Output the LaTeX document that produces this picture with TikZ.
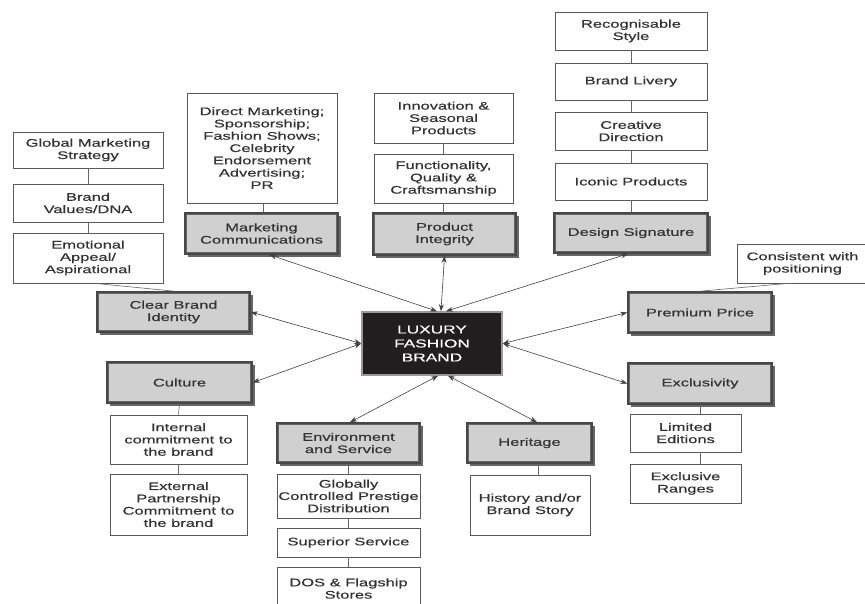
\documentclass[tikz,border=0pt]{standalone}
\usepackage{fontspec}
\setmainfont{Liberation Sans}[FakeStretch=1.5,FakeBold=0.5]
\usetikzlibrary{arrows.meta}
\definecolor{txt}{HTML}{333333}
\definecolor{catfill}{HTML}{D0D0D0}
\definecolor{centerfill}{HTML}{221E1F}
\newcommand\bxnode[7]{%
  \pgfmathsetmacro\cx{(#3+#5)/2}\pgfmathsetmacro\cy{(#4+#6)/2}%
  \pgfmathsetmacro\bw{#5-#3}\pgfmathsetmacro\bh{#6-#4}%
  \node[#1, minimum width=\bw pt, minimum height=\bh pt] (#2) at (\cx,\cy) {#7};}
\newcommand\catnode[6]{%
  \fill[catshadow] (#2+2.5,#3+2.5) rectangle (#4+2.5,#5+2.5);%
  \bxnode{cat}{#1}{#2}{#3}{#4}{#5}{#6}%
  \draw[catinner] ([shift={(2.2pt,-2.2pt)}]#1.north west) rectangle ([shift={(-2.2pt,2.2pt)}]#1.south east);}
\begin{document}
\begin{tikzpicture}[x=1pt,y=-1pt,
  base/.style={align=center, font=\fontsize{11}{12.3}\selectfont, text=txt, inner sep=0pt},
  leaf/.style={base, draw=black!65, line width=0.7pt, fill=white},
  cat/.style={base, draw=black!72, line width=1.6pt, fill=catfill},
  catinner/.style={draw=black!60, line width=0.6pt},
  catshadow/.style={fill=black!60},
  core/.style={align=center, font=\fontsize{11.5}{14}\selectfont, text=white, inner sep=0pt,
    fill=centerfill, draw=black!40, line width=1.5pt},
  link/.style={draw=black!60, line width=0.6pt},
  arr/.style={{Stealth[length=7pt,width=5pt]}-{Stealth[length=7pt,width=5pt]}, draw=black!75, line width=0.6pt}
]
\useasboundingbox (0,0) rectangle (865,603);
\fill[white] (0,0) rectangle (865,603);

% centre
\bxnode{core}{lfb}{362}{312}{502}{375}{LUXURY\\FASHION\\BRAND}

% top-left group
\bxnode{leaf}{gms}{13}{132}{163}{168}{Global Marketing\\Strategy}
\bxnode{leaf}{bv}{13}{184}{163}{222}{Brand\\Values/DNA}
\bxnode{leaf}{ea}{13}{233}{163}{283}{Emotional\\Appeal/\\Aspirational}
\catnode{cbi}{97}{292}{250}{332}{Clear Brand\\Identity}

% culture group
\catnode{cul}{107}{362}{252}{403}{Culture}
\bxnode{leaf}{ic}{110}{415}{247}{464}{Internal\\commitment to\\the brand}
\bxnode{leaf}{ep}{110}{474}{247}{535}{External\\Partnership\\Commitment to\\the brand}

% marketing communications
\bxnode{leaf}{dm}{187}{93}{337}{203}{Direct Marketing;\\Sponsorship;\\Fashion Shows;\\Celebrity\\Endorsement\\Advertising;\\PR}
\catnode{mc}{185}{213}{338}{254}{Marketing\\Communications}

% product integrity
\bxnode{leaf}{isp}{374}{93}{513}{143}{Innovation \&\\Seasonal\\Products}
\bxnode{leaf}{fqc}{374}{154}{513}{203}{Functionality,\\Quality \&\\Craftsmanship}
\catnode{pi}{373}{213}{516}{255}{Product\\Integrity}

% design signature
\bxnode{leaf}{rs}{555}{12}{707}{50}{Recognisable\\Style}
\bxnode{leaf}{bl}{555}{63}{707}{100}{Brand Livery}
\bxnode{leaf}{cd}{555}{112}{707}{150}{Creative\\Direction}
\bxnode{leaf}{ip}{555}{163}{707}{200}{Iconic Products}
\catnode{ds}{554}{213}{708}{253}{Design Signature}

% premium price
\bxnode{leaf}{cwp}{737}{244}{868}{283}{Consistent with\\positioning}
\catnode{pp}{628}{292}{772}{333}{Premium Price}

% exclusivity
\catnode{ex}{628}{363}{772}{404}{Exclusivity}
\bxnode{leaf}{le}{630}{414}{741}{452}{Limited\\Editions}
\bxnode{leaf}{er}{630}{464}{741}{503}{Exclusive\\Ranges}

% heritage
\catnode{her}{467}{423}{592}{463}{Heritage}
\bxnode{leaf}{hist}{470}{475}{590}{535}{History and/or\\Brand Story}

% environment and service
\catnode{env}{277}{423}{420}{463}{Environment\\and Service}
\bxnode{leaf}{gcp}{277}{474}{420}{518}{Globally\\Controlled Prestige\\Distribution}
\bxnode{leaf}{ss}{277}{528}{420}{557}{Superior Service}
\bxnode{leaf}{dos}{277}{567}{420}{610}{DOS \& Flagship\\Stores}

% connectors within groups
\draw[link] (gms.south) -- (bv.north);
\draw[link] (bv.south) -- (ea.north);
\draw[link] ([xshift=7pt]ea.south) -- ([xshift=1pt]cbi.north);
\draw[link] (cul.south) -- (ic.north);
\draw[link] (ic.south) -- (ep.north);
\draw[link] ([xshift=1pt]dm.south) -- ([xshift=1.5pt]mc.north);
\draw[link] (isp.south) -- (fqc.north);
\draw[link] (fqc.south) -- (fqc.south |- pi.north);
\draw[link] (rs.south) -- (bl.north);
\draw[link] (bl.south) -- (cd.north);
\draw[link] (cd.south) -- (ip.north);
\draw[link] (ip.south) -- (ip.south |- ds.north);
\draw[link] ([xshift=-14pt]cwp.south) -- (pp.north);
\draw[link] (ex.south) -- (ex.south |- le.north);
\draw[link] (ex.south |- le.south) -- (ex.south |- er.north);
\draw[link] ([xshift=9pt]her.south) -- ([xshift=9pt]her.south |- hist.north);
\draw[link] (env.south) -- (env.south |- gcp.north);
\draw[link] (gcp.south) -- (ss.north);
\draw[link] (ss.south) -- (dos.north);

% arrows from the centre
\draw[arr] ([xshift=5pt]lfb.north) -- ([xshift=8pt]mc.south);
\draw[arr] ([xshift=9pt]lfb.north) -- (pi.south);
\draw[arr] ([xshift=14pt]lfb.north) -- ([xshift=-3pt]ds.south);
\draw[arr] (lfb.west) -- (cbi.east);
\draw[arr] (lfb.west) -- (cul.east);
\draw[arr] (lfb.east) -- (pp.west);
\draw[arr] (lfb.east) -- (ex.west);
\draw[arr] ([xshift=6pt]lfb.south) -- ([xshift=1.5pt]env.north);
\draw[arr] ([xshift=16pt]lfb.south) -- ([xshift=7.5pt]her.north);
\end{tikzpicture}
\end{document}
